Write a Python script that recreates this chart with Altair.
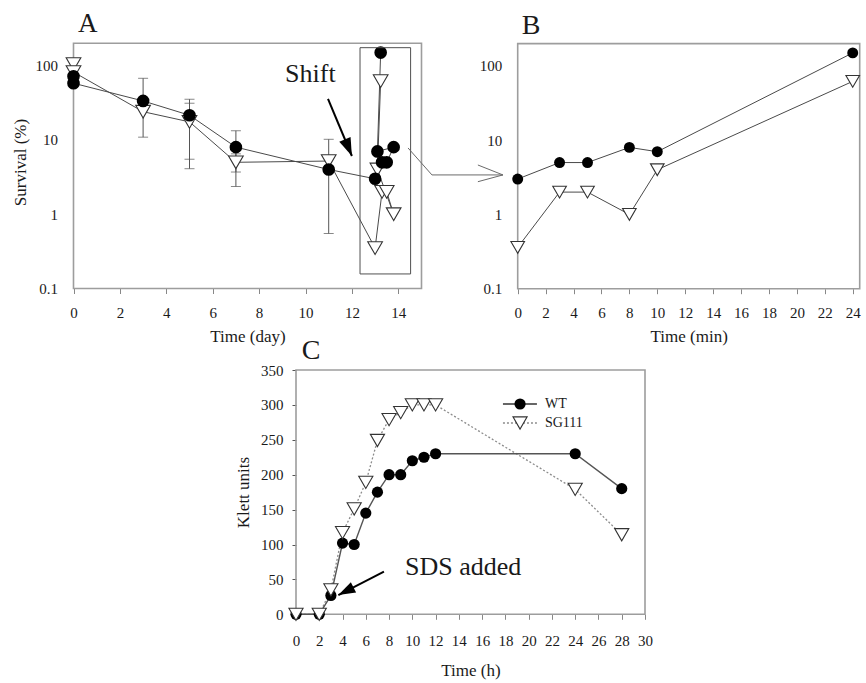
import altair as alt
import pandas as pd

SERIF = "Liberation Serif, Times New Roman, serif"
INK = "#1a1a1a"
LINE_GREY = "#4a4a4a"
FRAME_GREY = "#9d9d9d"
CANVAS_W, CANVAS_H = 866, 683

# ---------------- data ----------------
# Panel A: survival (%) over days; the 13.x entries are the post-shift minutes
A_DAY = [0, 3, 5, 7, 11, 13, 13.3, 13.5, 13.8, 13.1, 13.24]
A_WT = [58, 33.5, 21.5, 8, 4, 3, 5, 5, 8, 7, 150]
A_SG111 = [82, 24, 17.5, 5, 5.2, 0.35, 2, 2, 1, 4, 62]
A_DAY0_WT_REP = [72]
A_DAY0_SG111_REP = [105]
A_ERR_DAY = [3, 5, 5, 7, 7, 11]
A_ERR_LOW = [10.9, 5.5, 4.1, 3.7, 2.36, 0.55]
A_ERR_HIGH = [67.6, 35.3, 31.2, 13.3, 6.5, 10.2]

# Panel B: survival (%) in the minutes after the shift
B_MIN = [0, 3, 5, 8, 10, 24]
B_WT = [3, 5, 5, 8, 7, 150]
B_SG111 = [0.36, 2, 2, 1, 4, 62]

# Panel C: growth (Klett units) after SDS addition
C_HOUR = [0, 2, 3, 4, 5, 6, 7, 8, 9, 10, 11, 12, 24, 28]
C_WT = [0, 0, 27, 102, 100, 145, 175, 200, 200, 220, 225, 230, 230, 180]
C_SG111 = [0, 0, 35, 117, 151, 189, 249, 279, 289, 300, 300, 300, 179, 114]

# ---------------- scales & axes ----------------
A_XS = alt.Scale(domain=[0, 15], range=[73.5, 421.5], nice=False, zero=False)
A_YS = alt.Scale(type="log", domain=[0.1, 200], range=[288.5, 43.3], nice=False)
B_XS = alt.Scale(domain=[0, 24.5], range=[517.7, 859.7], nice=False, zero=False)
B_YS = alt.Scale(type="log", domain=[0.1, 200], range=[288.7, 43.6], nice=False)
C_XS = alt.Scale(domain=[0, 30], range=[296, 645], nice=False, zero=False)
C_YS = alt.Scale(domain=[0, 350], range=[614.3, 370], nice=False, zero=False)


def x_axis(values, title, axis_y, title_y, pad):
    return alt.Axis(orient="bottom", offset=axis_y - CANVAS_H, values=values,
                    format="d", title=title, titleY=title_y - axis_y,
                    titleBaseline="middle", labelPadding=pad)


def y_axis(values, fmt, title, axis_x, title_x, title_y, pad, ticks=False):
    kw = dict(orient="left", offset=-axis_x, values=values, format=fmt,
              labelPadding=pad, ticks=ticks)
    if ticks:
        kw.update(tickSize=4, tickColor="#555555")
    if title:
        kw.update(title=title, titleX=title_x - axis_x, titleY=title_y,
                  titleAngle=270, titleBaseline="middle")
    else:
        kw.update(title=None)
    return alt.Axis(**kw)


LOG_TICKS = [0.1, 1, 10, 100]
A_AX_X = x_axis(list(range(0, 15, 2)), "Time (day)", 288.5, 336, 12)
A_AX_Y = y_axis(LOG_TICKS, "~g", "Survival (%)", 73.5, 20, 162, 16)
B_AX_X = x_axis(list(range(0, 25, 2)), "Time (min)", 288.7, 336, 12)
B_AX_Y = y_axis(LOG_TICKS, "~g", None, 517.7, 0, 0, 16)
C_AX_X = x_axis(list(range(0, 31, 2)), "Time (h)", 614.3, 670, 14)
C_AX_Y = y_axis(list(range(0, 351, 50)), "d", "Klett units", 296, 243, 492, 9, ticks=True)


def enc(xs, ys, ax, ay):
    return dict(x=alt.X("x:Q", scale=xs, axis=ax), y=alt.Y("y:Q", scale=ys, axis=ay))


def frame(E, xd, yd):
    df = pd.DataFrame({"x": [xd[0]], "x2": [xd[1]], "y": [yd[0]], "y2": [yd[1]]})
    return alt.Chart(df).mark_rect(fillOpacity=0, stroke=FRAME_GREY, strokeWidth=1.6).encode(
        **E, x2="x2:Q", y2="y2:Q")


def series_line(E, xs, ys, **style):
    df = pd.DataFrame({"x": xs, "y": ys, "i": range(len(xs))})
    return alt.Chart(df).mark_line(**style).encode(**E, order="i:Q")


def circles(E, xs, ys, size):
    df = pd.DataFrame({"x": xs, "y": ys})
    return alt.Chart(df).mark_point(shape="circle", filled=True, color="black",
                                    size=size, opacity=1).encode(**E)


def triangles(E, xs, ys, size):
    df = pd.DataFrame({"x": xs, "y": ys})
    return alt.Chart(df).mark_point(shape="triangle-down", filled=True, fill="white",
                                    stroke="#333333", strokeWidth=1.1, size=size,
                                    opacity=1).encode(**E)


def label(E, x, y, text, size):
    df = pd.DataFrame({"x": [x], "y": [y], "t": [text]})
    return alt.Chart(df).mark_text(font=SERIF, fontSize=size, align="left",
                                   baseline="alphabetic", color=INK).encode(**E, text="t:N")


HEAD = "M0,0L-0.34,-1L0.34,-1Z"


def arrow(E, tail, tip, angle, head_size):
    df = pd.DataFrame({"x": [tail[0]], "y": [tail[1]], "x2": [tip[0]], "y2": [tip[1]]})
    shaft = alt.Chart(df).mark_rule(color="black", strokeWidth=2).encode(
        **E, x2="x2:Q", y2="y2:Q")
    hd = pd.DataFrame({"x": [tip[0]], "y": [tip[1]]})
    head = alt.Chart(hd).mark_point(shape=HEAD, filled=True, color="black", opacity=1,
                                    size=head_size, angle=angle).encode(**E)
    return shaft + head


# ---------------- panel A ----------------
EA = enc(A_XS, A_YS, A_AX_X, A_AX_Y)
err_df = pd.DataFrame({"x": A_ERR_DAY, "y": A_ERR_LOW, "y2": A_ERR_HIGH})
err_caps = pd.DataFrame({"x": A_ERR_DAY * 2, "y": A_ERR_LOW + A_ERR_HIGH})
shift_box = pd.DataFrame({"x": [12.35], "x2": [14.53], "y": [0.157], "y2": [174.6]})
connector = pd.DataFrame({"x": [14.42, 15.45, 18.51], "y": [7.8, 3.38, 3.38], "i": [0, 1, 2]})
chevron = pd.DataFrame({"x": [17.43, 18.51, 17.43], "y": [4.6, 3.38, 2.74], "i": [0, 1, 2]})

panel_a = alt.layer(
    frame(EA, [0, 15], [0.1, 200]),
    alt.Chart(err_df).mark_rule(color="#555555", strokeWidth=1).encode(**EA, y2="y2:Q"),
    alt.Chart(err_caps).mark_tick(orient="horizontal", size=10, thickness=1,
                                  color="#555555").encode(**EA),
    series_line(EA, A_DAY, A_SG111, color=LINE_GREY, strokeWidth=1),
    series_line(EA, A_DAY, A_WT, color=LINE_GREY, strokeWidth=1),
    triangles(EA, [0] + A_DAY, A_DAY0_SG111_REP + A_SG111, 215),
    circles(EA, [0] + A_DAY, A_DAY0_WT_REP + A_WT, 160),
    alt.Chart(shift_box).mark_rect(fillOpacity=0, stroke="#505050", strokeWidth=1).encode(
        **EA, x2="x2:Q", y2="y2:Q"),
    alt.Chart(connector).mark_line(color="#6a6a6a", strokeWidth=1).encode(**EA, order="i:Q"),
    alt.Chart(chevron).mark_line(color="#6a6a6a", strokeWidth=1).encode(**EA, order="i:Q"),
    arrow(EA, (10.97, 35.6), (12.0, 6.08), 337.2, 1296),
    label(EA, 9.12, 60.3, "Shift", 26),
    label(EA, 0.19, 284, "A", 27),
)

# ---------------- panel B ----------------
EB = enc(B_XS, B_YS, B_AX_X, B_AX_Y)
panel_b = alt.layer(
    frame(EB, [0, 24.5], [0.1, 200]),
    series_line(EB, B_MIN, B_SG111, color=LINE_GREY, strokeWidth=1),
    series_line(EB, B_MIN, B_WT, color=LINE_GREY, strokeWidth=1),
    triangles(EB, B_MIN, B_SG111, 185),
    circles(EB, B_MIN, B_WT, 120),
    label(EB, 0.29, 268, "B", 28),
)

# ---------------- panel C ----------------
EC = enc(C_XS, C_YS, C_AX_X, C_AX_Y)
leg_wt = pd.DataFrame({"x": [17.79, 20.71], "y": [301.3, 301.3], "i": [0, 1]})
leg_sg = pd.DataFrame({"x": [17.79, 20.71], "y": [274.1, 274.1], "i": [0, 1]})
leg_text = pd.DataFrame({"x": [21.4, 21.4], "y": [301.3, 274.1], "t": ["WT", "SG111"]})

panel_c = alt.layer(
    frame(EC, [0, 30], [0, 350]),
    series_line(EC, C_HOUR, C_SG111, color="#8c8c8c", strokeWidth=1.3, strokeDash=[2, 2]),
    series_line(EC, C_HOUR, C_WT, color="#555555", strokeWidth=1.4),
    circles(EC, C_HOUR, C_WT, 125),
    triangles(EC, C_HOUR, C_SG111, 200),
    alt.Chart(leg_wt).mark_line(color="#333333", strokeWidth=1.4).encode(**EC, order="i:Q"),
    alt.Chart(leg_sg).mark_line(color="#8c8c8c", strokeWidth=1.3,
                                strokeDash=[2, 2]).encode(**EC, order="i:Q"),
    circles(EC, [19.26], [301.3], 125),
    triangles(EC, [19.26], [274.1], 200),
    alt.Chart(leg_text).mark_text(font=SERIF, fontSize=14, align="left", baseline="middle",
                                  color=INK).encode(**EC, text="t:N"),
    arrow(EC, (7.56, 61.0), (3.64, 27.6), 63, 1156),
    label(EC, 9.37, 56.3, "SDS added", 26),
    label(EC, 0.49, 365.8, "C", 28),
)

chart = (
    alt.layer(panel_a, panel_b, panel_c)
    .resolve_scale(x="independent", y="independent")
    .properties(width=CANVAS_W, height=CANVAS_H, padding=0,
                autosize=alt.AutoSizeParams(type="none"), background="white")
    .configure_view(stroke=None)
    .configure_text(font=SERIF)
    .configure_axis(labelFont=SERIF, titleFont=SERIF, labelFontSize=15, titleFontSize=17,
                    titleFontWeight="normal", labelColor=INK, titleColor=INK,
                    domain=False, grid=False, labelFlush=False, labelOverlap=False)
)

chart.save("out.html", embed_options={"renderer": "svg", "actions": False})
